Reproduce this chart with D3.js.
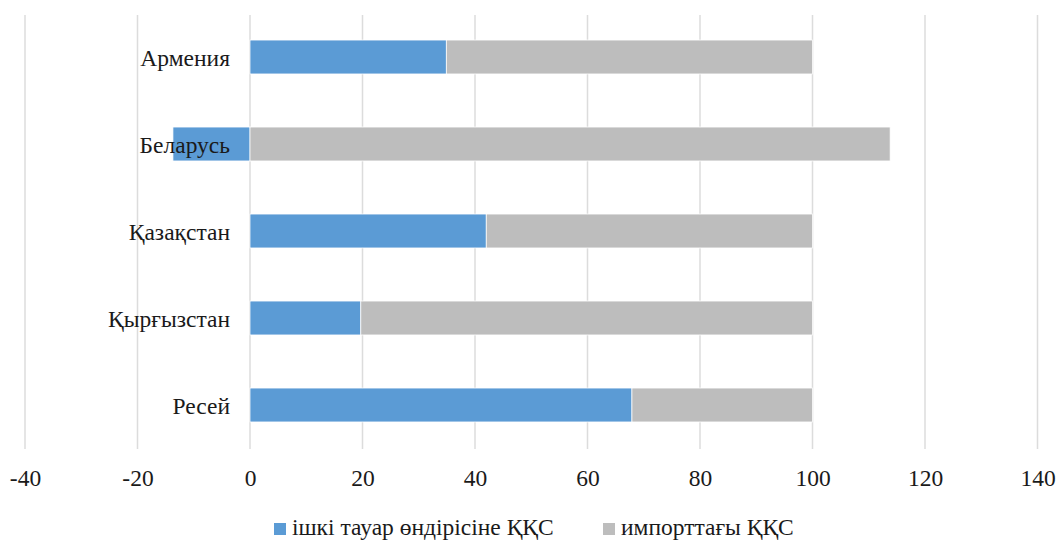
<!DOCTYPE html>
<html>
<head>
<meta charset="utf-8">
<script src="https://cdn.jsdelivr.net/npm/d3@7"></script>
<style>
  html, body { margin: 0; padding: 0; background: #fff; }
  svg { display: block; }
</style>
</head>
<body>
<svg id="chart" width="1057" height="540"></svg>
<script>
const categories = ["Армения", "Беларусь", "Қазақстан", "Қырғызстан", "Ресей"];
const domestic = [34.9, -13.7, 42.0, 19.7, 67.9];
const imported = [65.1, 113.8, 58.0, 80.3, 32.1];
const seriesNames = ["ішкі тауар өндірісіне ҚҚС", "импорттағы ҚҚС"];
const seriesColors = ["#5B9BD5", "#BDBDBD"];
const xTicks = [-40, -20, 0, 20, 40, 60, 80, 100, 120, 140];

const FONT = "'Liberation Serif', 'Times New Roman', Times, serif";
const FS = 23.5;
const svg = d3.select("#chart");
const x = d3.scaleLinear().domain([-40, 140]).range([25, 1037.5]);
const y = d3.scaleBand().domain(categories).range([13.5, 448.5]).paddingInner(0.61).paddingOuter(0.305);

// gridlines
svg.append("g")
  .selectAll("line").data(xTicks).join("line")
  .attr("x1", d => x(d)).attr("x2", d => x(d))
  .attr("y1", 15).attr("y2", 449)
  .attr("stroke", "#DCDCDC").attr("stroke-width", 1.5);

// stacked bars: negatives stack leftward from 0, positives rightward
const rows = categories.map((c, i) => ({ c, vals: [domestic[i], imported[i]] }));
const segs = [];
rows.forEach(r => {
  let pos = 0, neg = 0;
  r.vals.forEach((v, s) => {
    let x0, x1;
    if (v >= 0) { x0 = pos; x1 = pos + v; pos = x1; }
    else { x1 = neg; x0 = neg + v; neg = x0; }
    segs.push({ c: r.c, s, x0, x1 });
  });
});
svg.append("g")
  .selectAll("rect").data(segs).join("rect")
  .attr("x", d => x(d.x0))
  .attr("width", d => x(d.x1) - x(d.x0))
  .attr("y", d => y(d.c))
  .attr("height", y.bandwidth())
  .attr("fill", d => seriesColors[d.s])
  .attr("stroke", "#fff").attr("stroke-width", 0.75);

function styleText(sel) {
  sel.attr("font-family", null).attr("font-size", null);
  sel.selectAll("text")
    .style("font-family", FONT).style("font-size", FS + "px").style("fill", "#1a1a1a");
}

// x axis labels
const xAxis = d3.axisBottom(x).tickValues(xTicks).tickSize(0).tickPadding(0).tickFormat(d => String(d));
const gx = svg.append("g").attr("transform", "translate(0,470)").call(xAxis);
gx.select(".domain").remove();
styleText(gx);
gx.selectAll("text").attr("dy", "0.68em");

// category labels
const yAxis = d3.axisLeft(y).tickSize(0).tickPadding(0);
const gy = svg.append("g").attr("transform", "translate(230,0)").call(yAxis);
gy.select(".domain").remove();
styleText(gy);
gy.selectAll("text").attr("dy", "0.38em");

// legend
const legendX = [274, 603];
const lg = svg.append("g");
seriesNames.forEach((n, i) => {
  lg.append("rect").attr("x", legendX[i]).attr("y", 523).attr("width", 12).attr("height", 12)
    .attr("fill", seriesColors[i]);
  lg.append("text").attr("x", legendX[i] + 18).attr("y", 535)
    .style("font-family", FONT).style("font-size", FS + "px").style("fill", "#1a1a1a")
    .text(n);
});
</script>
</body>
</html>
